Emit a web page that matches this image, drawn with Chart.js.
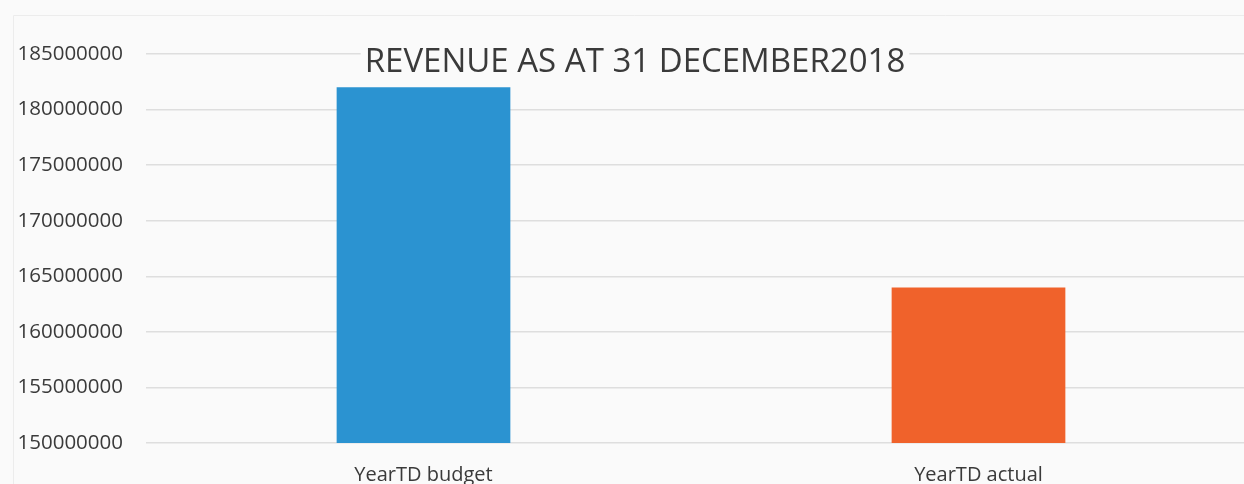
<!DOCTYPE html>
<html>
<head>
<meta charset="utf-8">
<script src="https://cdn.jsdelivr.net/npm/chart.js@4/dist/chart.umd.min.js"></script>
<style>
  html, body { margin: 0; padding: 0; background: #fafafa; overflow: hidden; }
  #wrap { width: 1256px; height: 484px; }
</style>
</head>
<body>
<div id="wrap"><canvas id="graficoReceita"></canvas></div>
<script>
const categorias = ['YearTD budget', 'YearTD actual'];
const valores = [182000000, 164000000];
const cores = ['#2b93d1', '#f0622b'];
const titulo = 'REVENUE AS AT 31 DECEMBER2018';
const eixoMin = 150000000;
const eixoMax = 185000000;
const eixoPasso = 5000000;

const fonte = "'Open Sans', sans-serif";

// fundo, moldura clara e o título por cima das linhas de grade
const pluginFundo = {
    id: 'fundo',
    beforeDraw(chart) {
        const ctx = chart.ctx;
        ctx.save();
        ctx.fillStyle = '#fafafa';
        ctx.fillRect(0, 0, chart.width, chart.height);
        ctx.strokeStyle = '#ececec';
        ctx.lineWidth = 1;
        ctx.beginPath();
        ctx.moveTo(13.5, chart.height);
        ctx.lineTo(13.5, 15.5);
        ctx.lineTo(chart.width, 15.5);
        ctx.stroke();
        ctx.restore();
    },
    afterDatasetsDraw(chart) {
        const ctx = chart.ctx;
        ctx.save();
        ctx.font = '33px ' + fonte;
        const w = ctx.measureText(titulo).width;
        const cx = 635;
        ctx.fillStyle = '#fafafa';
        ctx.fillRect(cx - w / 2 - 4, 44, w + 8, 34);
        ctx.fillStyle = '#3a3a3a';
        ctx.textAlign = 'center';
        ctx.textBaseline = 'alphabetic';
        ctx.fillText(titulo, cx, 72);
        ctx.restore();
    }
};

const ctxReceita = document.getElementById('graficoReceita').getContext('2d');
const graficoReceita = new Chart(ctxReceita, {
    type: 'bar',
    data: {
        labels: categorias,
        datasets: [
            {
                label: 'Revenue',
                data: valores,
                backgroundColor: cores,
                borderWidth: 0,
                categoryPercentage: 1,
                barPercentage: 0.313
            }
        ]
    },
    options: {
        responsive: true,
        maintainAspectRatio: false,
        animation: false,
        layout: {
            padding: { top: 54, left: 0, right: 0, bottom: 0 }
        },
        plugins: {
            legend: { display: false },
            title: { display: false },
            tooltip: { enabled: false }
        },
        scales: {
            x: {
                grid: { display: false, drawTicks: false },
                border: { display: false },
                ticks: {
                    color: '#3a3a3a',
                    font: { family: fonte, size: 20 },
                    padding: 20,
                    maxRotation: 0
                },
                afterFit(scale) { scale.height = 41; }
            },
            y: {
                min: eixoMin,
                max: eixoMax,
                grid: { color: '#dedede', lineWidth: 1.5, drawTicks: false },
                border: { display: false },
                ticks: {
                    stepSize: eixoPasso,
                    color: '#3a3a3a',
                    font: { family: fonte, size: 20.5 },
                    padding: 23,
                    callback: v => String(v)
                },
                afterFit(scale) { scale.width = 146; }
            }
        }
    },
    plugins: [pluginFundo]
});
</script>
</body>
</html>
